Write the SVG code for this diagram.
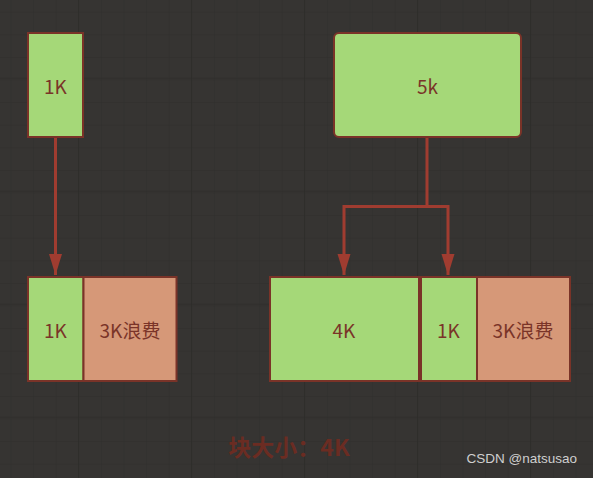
<svg xmlns="http://www.w3.org/2000/svg" width="593" height="478" viewBox="0 0 593 478">
  <defs>
    <pattern id="minor" x="10.5" y="11.7" width="22.6" height="22.6" patternUnits="userSpaceOnUse">
      <path d="M0 0H22.6M0 0V22.6" fill="none" stroke="#2f2e2c" stroke-width="1"/>
    </pattern>
    <pattern id="major" x="78" y="77.7" width="113" height="113" patternUnits="userSpaceOnUse">
      <path d="M0 0H113M0 0V113" fill="none" stroke="#2b2a28" stroke-width="1.2"/>
    </pattern>
    <marker id="arr" markerWidth="22" markerHeight="14" refX="21" refY="7" orient="auto" markerUnits="userSpaceOnUse" viewBox="0 0 22 14">
      <path d="M0 0.5 L0 13.5 L21 7 Z" fill="#a03c30"/>
    </marker>
    <style>
      .g { fill: #a5d878; stroke: #7a3328; stroke-width: 2; }
      .w { fill: #d69878; stroke: #7a3328; stroke-width: 2; }
      .t { font-family: "Noto Sans CJK SC", "Noto Sans", sans-serif; font-size: 19px; fill: #7a3428; text-anchor: middle; dominant-baseline: central; }
      .c { fill: none; stroke: #a03c30; stroke-width: 3; }
    </style>
  </defs>
  <rect width="593" height="478" fill="#363432"/>
  <rect width="593" height="478" fill="url(#minor)"/>
  <rect width="593" height="478" fill="url(#major)"/>

  <g id="connectors">
    <path class="c" d="M55.5 138 V275" marker-end="url(#arr)"/>
    <path class="c" d="M427 138 V206.5 H344 V275" marker-end="url(#arr)"/>
    <path class="c" d="M427 206.5 H448 V275" marker-end="url(#arr)"/>
  </g>

  <g id="node-1k-top">
    <rect class="g" x="28" y="33" width="55" height="104"/>
    <text class="t" x="55.5" y="85">1K</text>
  </g>

  <g id="node-5k">
    <rect class="g" x="334" y="33" width="187" height="104" rx="5"/>
    <text class="t" x="427.5" y="85">5k</text>
  </g>

  <g id="node-left-block">
    <rect class="g" x="28" y="277" width="55.5" height="104"/>
    <text class="t" x="55.5" y="329">1K</text>
    <rect class="w" x="83.5" y="277" width="93" height="104"/>
    <text class="t" x="130" y="329">3K浪费</text>
  </g>

  <g id="node-right-block">
    <rect class="g" x="270" y="277" width="149" height="104"/>
    <text class="t" x="344" y="329">4K</text>
    <rect class="g" x="421" y="277" width="56" height="104"/>
    <text class="t" x="448.5" y="329">1K</text>
    <rect class="w" x="477" y="277" width="93" height="104"/>
    <text class="t" x="523" y="329">3K浪费</text>
  </g>

  <g id="caption">
    <text x="289" y="446" font-family="'Noto Sans CJK SC', 'Noto Sans', sans-serif" font-size="23" font-weight="bold" fill="#6b2c22" text-anchor="middle" dominant-baseline="central">块大小：4K</text>
  </g>
  <text x="577" y="463" font-family="'Liberation Sans', Arial, sans-serif" font-size="13.5" fill="#cfcfcf" text-anchor="end">CSDN @natsusao</text>
</svg>
